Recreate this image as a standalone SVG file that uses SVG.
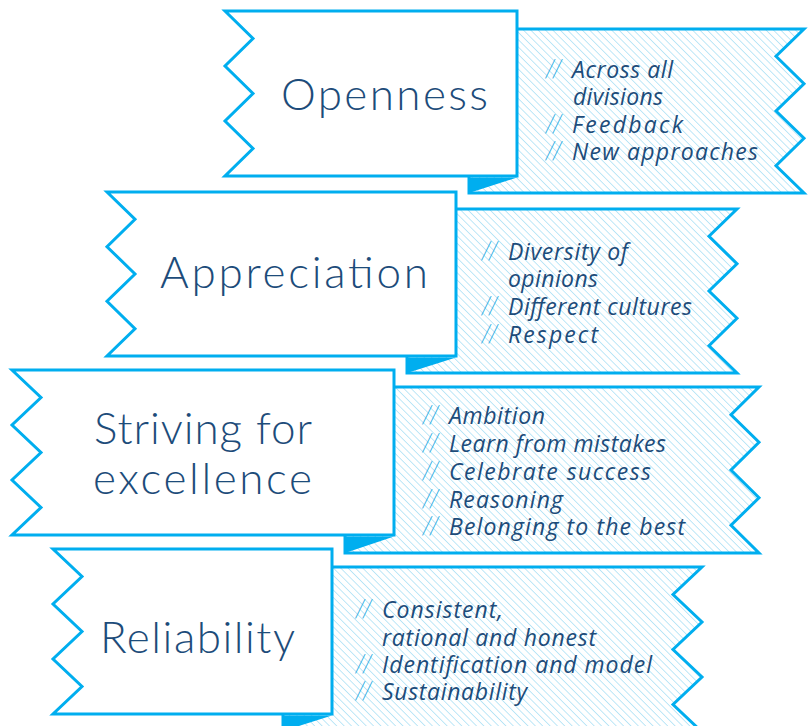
<svg xmlns="http://www.w3.org/2000/svg" width="810" height="726" viewBox="0 0 810 726">
<defs>
<pattern id="hatch" width="5.2" height="5.2" patternUnits="userSpaceOnUse" patternTransform="rotate(-45)">
<line x1="0" y1="0" x2="0" y2="5.2" stroke="#7dcff0" stroke-width="1"/>
</pattern>
<style>
.panel{fill:url(#hatch);stroke:#00aeef;stroke-width:3;stroke-linejoin:miter}
.box{fill:#ffffff;stroke:#00aeef;stroke-width:3;stroke-linejoin:miter}
.fold{fill:#00aeef;stroke:none}
.title{font-family:Lato,"Liberation Sans",sans-serif;font-weight:300;font-size:44px;fill:#1d4c7a}
.item{font-family:"Open Sans","Liberation Sans",sans-serif;font-style:italic;font-size:23px;fill:#1d4c7a}
.sl{font-family:Lato,"Liberation Sans",sans-serif;font-style:italic;font-weight:300;font-size:25px;fill:#29abe2;letter-spacing:2px}
</style>
</defs>
<rect width="810" height="726" fill="#ffffff"/>
<g id="connectors"></g>

<g id="openness">
<polygon class="panel" points="469,29 804,29 776,56.3 804,83.7 776,111 804,138.3 776,165.7 804,193 469,193"/>
<polygon class="box" points="225,11 517,11 517,176 225,176 253,148.5 225,121 253,93.5 225,66 253,38.5"/>
<polygon class="fold" points="469,177.5 517,177.5 469,193"/>
<text class="title" x="281" y="110" textLength="207">Openness</text>
<text class="item"><tspan class="sl" x="545" y="78">//</tspan><tspan x="572" y="78" textLength="101">Across all</tspan><tspan x="573" y="105" textLength="90">divisions</tspan><tspan class="sl" x="545" y="133">//</tspan><tspan x="572" y="133" textLength="111">Feedback</tspan><tspan class="sl" x="545" y="160">//</tspan><tspan x="572" y="160" textLength="186">New approaches</tspan></text>
</g>

<g id="appreciation">
<polygon class="panel" points="407,209 737,209 709,236.3 737,263.7 709,291 737,318.3 709,345.7 737,373 407,373"/>
<polygon class="box" points="107,192 456,192 456,356 107,356 135,328.7 107,301.3 135,274 107,246.7 135,219.3"/>
<polygon class="fold" points="407,357.5 456,357.5 407,373"/>
<text class="title" x="160" y="288" textLength="268">Appreciation</text>
<text class="item"><tspan class="sl" x="481" y="260">//</tspan><tspan x="508" y="260" textLength="120">Diversity of</tspan><tspan x="508" y="287" textLength="90">opinions</tspan><tspan class="sl" x="481" y="315">//</tspan><tspan x="508" y="315" textLength="184">Different cultures</tspan><tspan class="sl" x="481" y="343">//</tspan><tspan x="508" y="343" textLength="90">Respect</tspan></text>
</g>

<g id="striving">
<polygon class="panel" points="345,387 759,387 731,414.7 759,442.3 731,470 759,497.7 731,525.3 759,553 345,553"/>
<polygon class="box" points="12,370 394,370 394,535 12,535 41,507.5 12,480 41,452.5 12,425 41,397.5"/>
<polygon class="fold" points="345,536.5 394,536.5 345,553"/>
<text class="title"><tspan x="94" y="444" textLength="218">Striving for</tspan><tspan x="93" y="494" textLength="219">excellence</tspan></text>
<text class="item"><tspan class="sl" x="422" y="424">//</tspan><tspan x="449" y="424" textLength="96">Ambition</tspan><tspan class="sl" x="422" y="452">//</tspan><tspan x="449" y="452" textLength="217">Learn from mistakes</tspan><tspan class="sl" x="422" y="480">//</tspan><tspan x="449" y="480" textLength="202">Celebrate success</tspan><tspan class="sl" x="422" y="508">//</tspan><tspan x="449" y="508" textLength="114">Reasoning</tspan><tspan class="sl" x="422" y="535">//</tspan><tspan x="449" y="535" textLength="236">Belonging to the best</tspan></text>
</g>

<g id="reliability">
<polygon class="panel" points="283,567 702,567 673,594.5 702,622 673,649.5 702,677 673,704.5 702,732 283,732"/>
<polygon class="box" points="53,549 332,549 332,714 53,714 82,686.5 53,659 82,631.5 53,604 82,576.5"/>
<polygon class="fold" points="283,715.5 332,715.5 283,731"/>
<text class="title" x="100" y="653" textLength="195">Reliability</text>
<text class="item"><tspan class="sl" x="355" y="618">//</tspan><tspan x="382" y="618" textLength="121">Consistent,</tspan><tspan x="382" y="646" textLength="214">rational and honest</tspan><tspan class="sl" x="355" y="673">//</tspan><tspan x="382" y="673" textLength="270">Identification and model</tspan><tspan class="sl" x="355" y="700">//</tspan><tspan x="382" y="700" textLength="145">Sustainability</tspan></text>
</g>
</svg>
